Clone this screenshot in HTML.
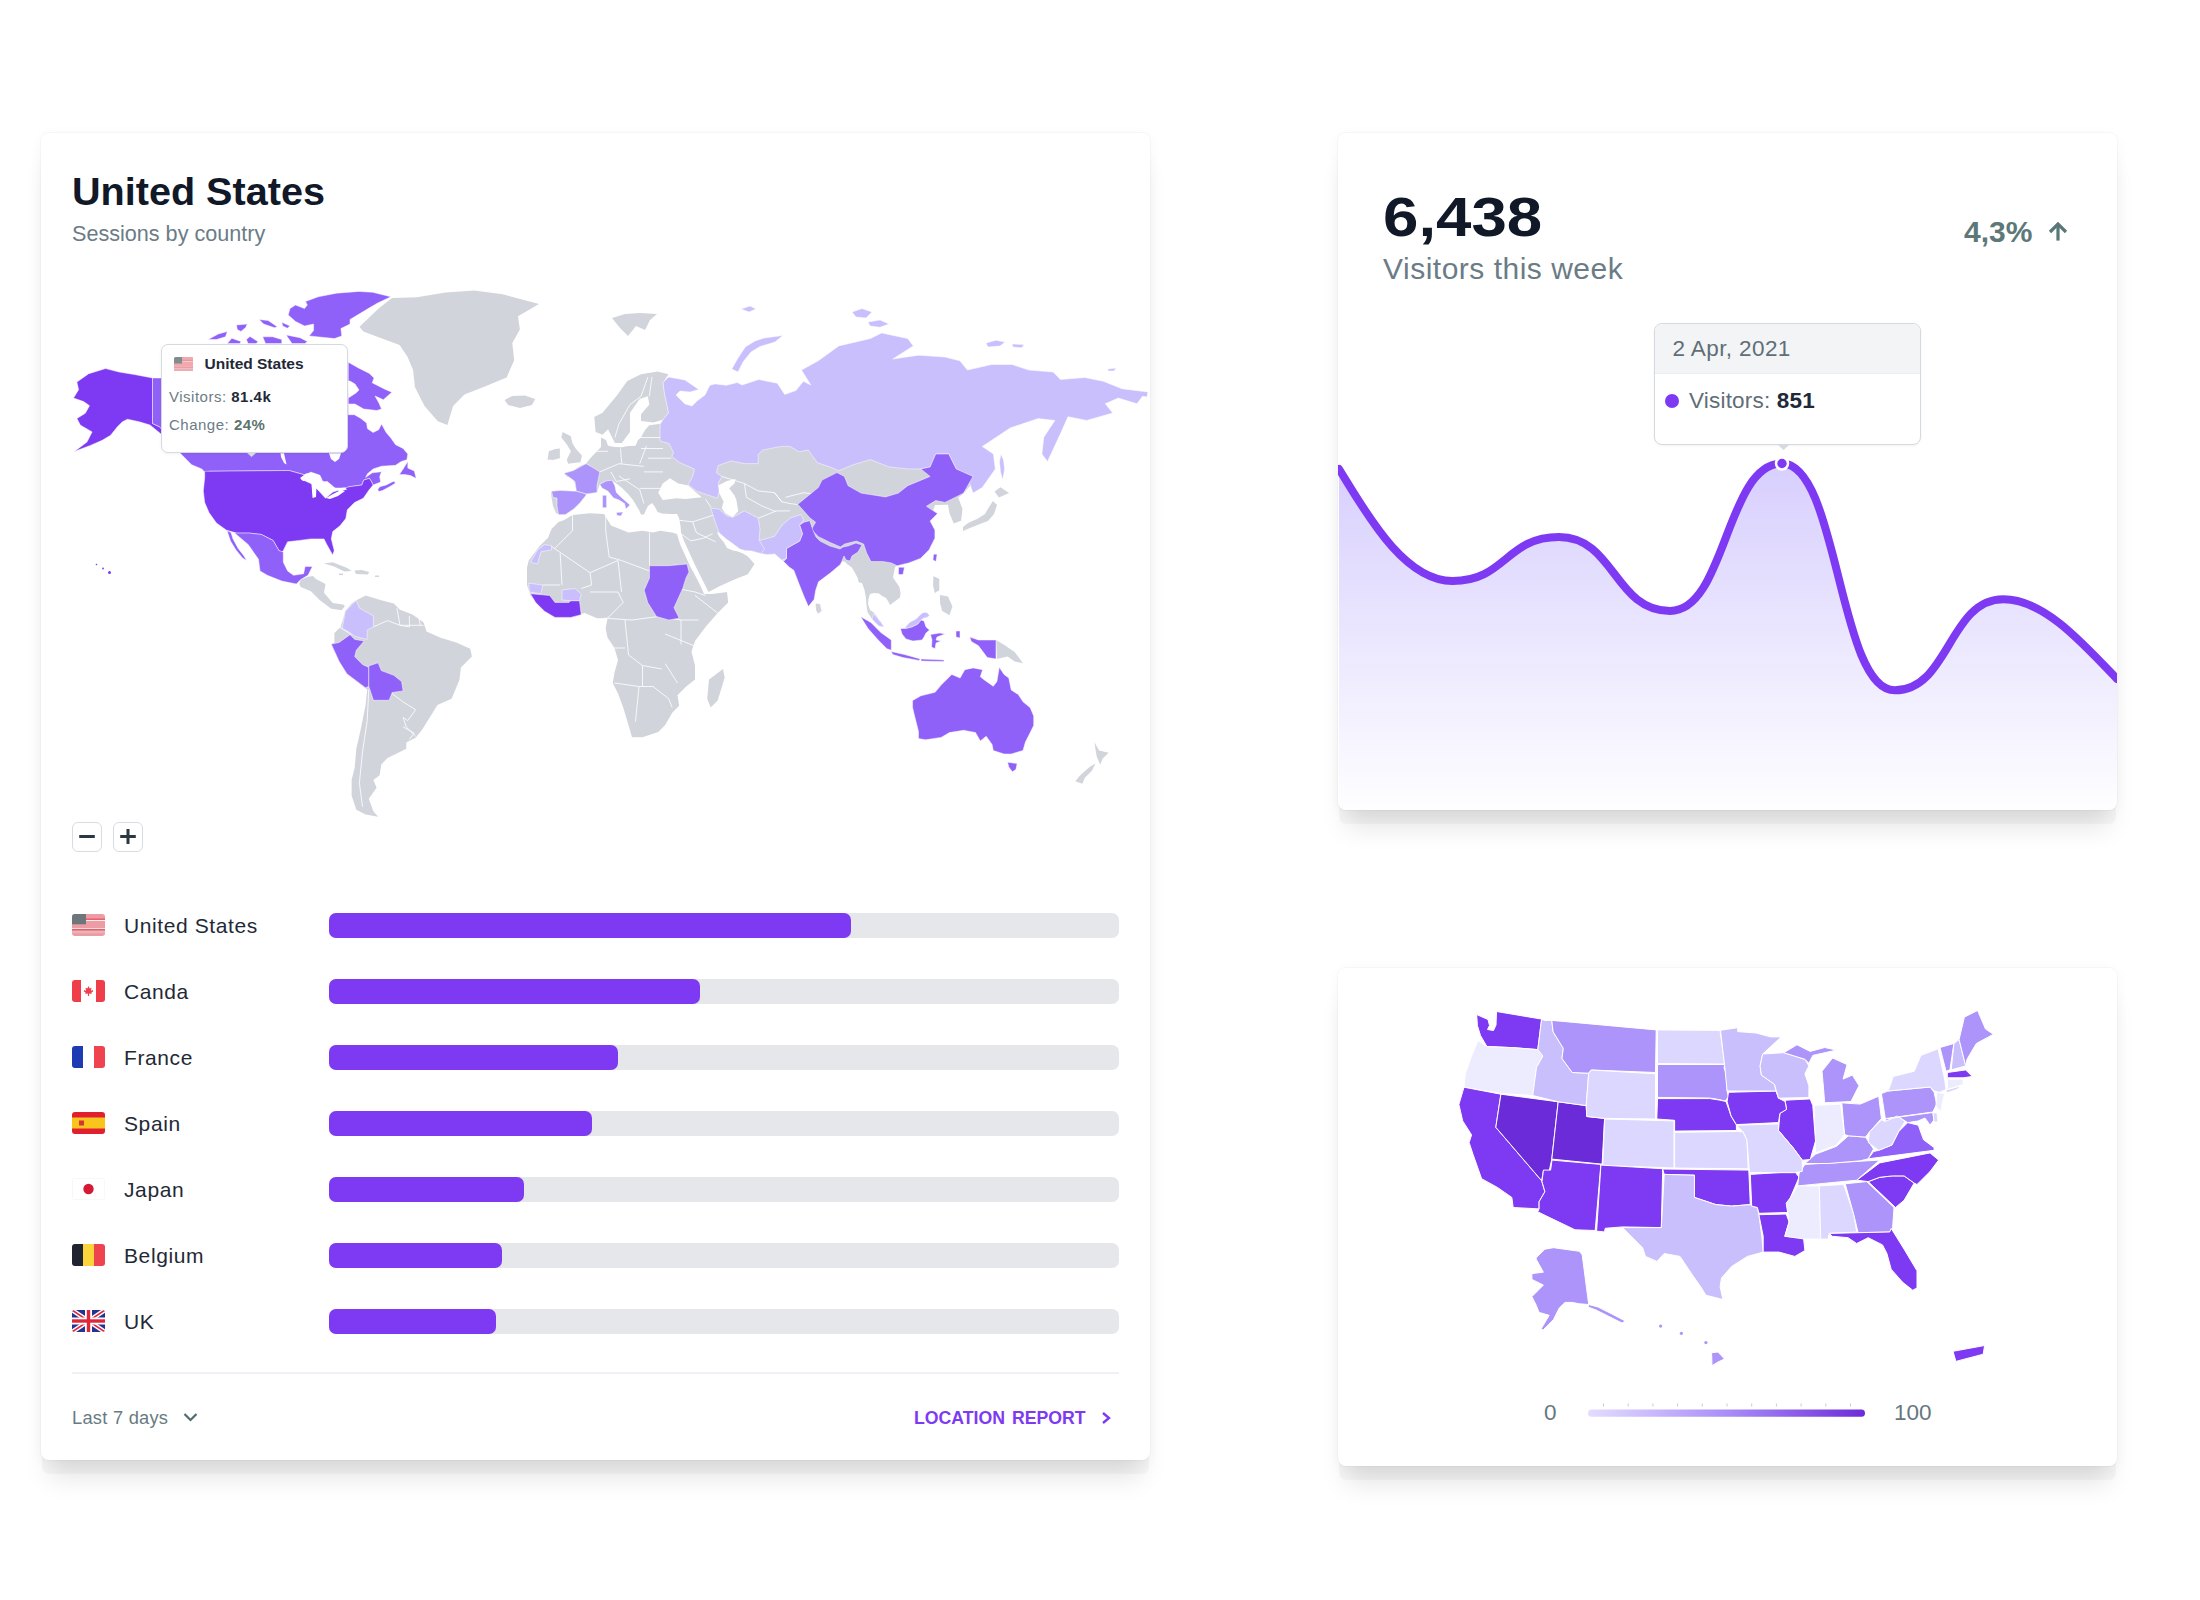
<!DOCTYPE html>
<html><head><meta charset="utf-8"><title>Sessions by country</title>
<style>
*{box-sizing:border-box}
html,body{margin:0;padding:0}
body{width:2200px;height:1600px;background:#fff;position:relative;overflow:hidden;font-family:"Liberation Sans", Arial, sans-serif;color:#111827}
.card{position:absolute;background:#fff;border-radius:8px;box-shadow:0 0 0 1px rgba(0,0,0,0.025),0 15px 1px -1px rgba(0,0,0,0.03),0 26px 24px -8px rgba(0,0,0,0.1),0 2px 14px rgba(0,0,0,0.04)}
.abs{position:absolute;white-space:nowrap}
.flag{position:absolute;left:72px;width:33px;height:22px;border-radius:3px;overflow:hidden}
.flag svg{display:block}
.cname{position:absolute;left:124px;font-size:21px;line-height:27px;letter-spacing:0.6px;color:#1f2a37;white-space:nowrap}
.track{position:absolute;left:329.3px;width:789.6px;height:25.2px;border-radius:7px;background:#e5e7eb}
.fill{position:absolute;left:329.3px;height:25.2px;border-radius:7px;background:#7e3af2}
.zbtn{position:absolute;top:821.5px;width:30px;height:30px;border:1px solid #d8dce2;border-radius:6px;background:#fff}
</style></head><body>
<div class="card" style="left:41px;top:133px;width:1108.5px;height:1326.5px"></div>
<div class="card" style="left:1338px;top:133px;width:779px;height:677px"></div>
<div class="card" style="left:1338px;top:968px;width:778.5px;height:498px"></div>

<svg class="abs" style="left:0;top:0" width="2200" height="1600" viewBox="0 0 2200 1600" xmlns="http://www.w3.org/2000/svg">
<defs>
<linearGradient id="ag" x1="0" y1="463" x2="0" y2="818" gradientUnits="userSpaceOnUse">
<stop offset="0" stop-color="#c8bcfd" stop-opacity="0.72"/>
<stop offset="1" stop-color="#c8bcfd" stop-opacity="0.0"/>
</linearGradient>
<linearGradient id="lg" x1="1588" y1="0" x2="1865" y2="0" gradientUnits="userSpaceOnUse">
<stop offset="0" stop-color="#e4ddfe"/><stop offset="0.5" stop-color="#a98ef8"/><stop offset="1" stop-color="#6c2bd9"/>
</linearGradient>
<clipPath id="cc"><rect x="1338" y="133" width="779" height="677" rx="9"/></clipPath>
</defs>
<g id="world"><path d="M359.5,326.8 L378.6,308.6 L392.0,298.1 L416.8,297.2 L445.5,292.4 L474.1,290.5 L502.7,294.3 L539.0,303.9 L518.0,316.3 L519.9,329.6 L512.3,343.0 L514.2,360.2 L506.6,377.4 L483.6,386.9 L464.5,394.5 L453.1,406.0 L447.4,425.1 L437.8,421.3 L424.5,406.0 L414.9,386.9 L413.0,369.7 L407.3,356.4 L399.6,344.9 L378.6,337.3 L363.4,331.5Z" fill="#d1d5db"/>
<path d="M504.6,400.0 L512.0,396.0 L525.0,395.5 L535.2,399.0 L532.0,405.0 L520.0,407.9 L508.0,405.0Z" fill="#d1d5db"/>
<path d="M612.0,318.0 L625.0,314.0 L640.0,313.0 L657.0,314.0 L650.0,320.0 L645.0,330.0 L636.0,326.0 L628.0,336.0 L620.0,328.0Z" fill="#d1d5db"/>
<path d="M594.3,416.9 L595.6,432.0 L602.5,434.8 L608.0,429.3 L614.9,443.0 L621.8,443.0 L630.0,432.0 L630.0,423.8 L630.0,412.8 L639.7,399.0 L647.9,396.3 L649.3,404.5 L641.0,414.2 L641.0,421.0 L653.4,422.4 L663.0,419.7 L668.5,412.8 L664.4,393.5 L663.0,382.5 L668.5,374.3 L657.5,371.5 L641.0,374.3 L627.3,381.1 L616.3,396.3 L602.5,412.8Z" fill="#d1d5db"/>
<path d="M586.0,463.7 L590.0,458.5 L597.0,451.3 L601.0,447.0 L601.0,437.5 L606.0,440.0 L608.0,445.8 L615.0,447.0 L621.8,447.2 L628.0,446.0 L635.5,445.8 L638.0,440.0 L641.0,437.5 L645.0,430.0 L649.3,425.2 L660.3,423.8 L680.0,440.0 L720.0,445.0 L760.0,443.0 L800.0,446.0 L850.0,456.0 L900.0,458.0 L935.0,455.0 L950.0,455.0 L965.0,470.0 L975.0,480.0 L963.0,494.0 L958.2,497.5 L962.5,509.1 L961.1,520.7 L953.8,523.6 L949.5,513.5 L948.0,504.7 L935.0,505.0 L930.0,520.0 L934.0,535.0 L925.0,553.0 L910.0,562.0 L897.0,565.8 L895.0,567.0 L893.0,577.5 L899.4,586.9 L900.6,593.0 L900.0,597.5 L896.0,600.6 L890.0,605.0 L888.0,601.0 L886.0,598.0 L882.0,596.0 L879.0,593.5 L874.0,593.0 L870.0,594.0 L868.5,599.0 L868.0,604.0 L870.0,610.0 L873.8,612.5 L878.0,618.0 L881.1,622.5 L884.0,626.9 L879.0,626.0 L876.7,624.0 L872.0,619.0 L867.5,612.0 L866.5,605.6 L866.0,598.0 L864.5,590.0 L862.0,583.0 L858.8,582.5 L857.5,577.5 L851.9,567.5 L847.0,564.0 L844.7,561.5 L841.8,561.5 L830.0,565.0 L810.0,570.0 L790.0,565.0 L781.8,560.0 L774.9,554.0 L767.3,554.5 L760.9,553.6 L752.0,551.0 L745.0,550.5 L740.0,549.1 L732.0,543.0 L726.4,539.1 L719.1,532.7 L717.0,532.0 L719.0,536.5 L724.0,542.5 L727.0,548.0 L733.0,550.5 L738.0,551.5 L743.0,553.5 L748.0,556.5 L754.5,564.0 L750.0,571.0 L747.5,574.5 L738.0,578.0 L730.0,581.5 L720.0,586.0 L712.5,590.0 L708.5,592.0 L705.0,585.0 L700.0,575.0 L694.5,564.0 L689.5,553.0 L684.5,542.0 L681.0,533.0 L680.5,526.0 L679.0,518.0 L677.0,514.0 L670.0,514.0 L662.0,513.5 L657.5,512.0 L655.0,507.0 L652.0,503.0 L648.0,506.0 L646.0,510.0 L644.0,514.6 L641.0,514.6 L639.0,510.0 L636.0,505.0 L633.0,500.0 L628.0,494.0 L622.0,488.0 L617.0,484.0 L612.0,480.5 L606.0,481.0 L600.0,484.0 L598.5,488.0 L597.0,492.5 L590.0,493.5 L586.0,494.5 L584.0,497.0 L580.5,502.2 L576.0,507.0 L573.6,509.0 L568.0,513.0 L565.4,514.6 L560.0,515.0 L556.0,513.0 L553.0,506.0 L551.6,498.0 L551.0,492.5 L552.0,491.0 L560.0,490.5 L570.0,491.0 L576.4,491.2 L575.0,484.0 L573.0,479.0 L566.0,476.0 L564.0,473.3 L568.0,472.0 L573.6,470.5 L580.0,466.0Z" fill="#d1d5db"/>
<path d="M562.6,432.0 L570.9,436.2 L572.3,443.0 L576.0,449.0 L581.9,455.4 L580.5,462.3 L574.0,463.0 L568.1,463.7 L566.8,459.5 L570.9,451.3 L566.8,444.4 L561.3,437.5Z" fill="#d1d5db"/>
<path d="M548.9,451.3 L555.0,449.0 L559.9,448.5 L559.9,458.2 L553.0,460.0 L547.5,459.5Z" fill="#d1d5db"/>
<path d="M563.7,520.2 L572.5,515.0 L590.0,513.2 L604.0,514.1 L611.0,525.5 L628.5,532.5 L642.5,530.7 L653.0,532.5 L660.0,530.7 L672.2,532.5 L677.0,534.0 L680.0,544.0 L685.0,555.0 L690.0,566.0 L696.0,577.0 L701.0,587.0 L704.0,594.0 L712.0,594.0 L720.0,593.0 L727.0,592.0 L728.2,602.5 L717.7,613.0 L705.5,627.0 L695.0,641.0 L691.5,651.5 L695.0,665.5 L695.0,679.5 L686.2,686.5 L677.5,695.2 L679.2,705.7 L672.2,712.7 L665.2,725.0 L658.2,732.0 L642.5,737.2 L632.0,737.2 L628.5,725.0 L623.2,707.5 L618.0,693.5 L612.7,683.0 L614.5,672.5 L618.0,660.2 L614.5,648.0 L607.5,637.5 L605.7,628.7 L607.5,618.2 L597.0,618.2 L584.7,613.0 L572.5,616.5 L555.0,616.5 L541.0,607.7 L530.5,595.5 L527.0,585.0 L527.0,567.5 L528.7,560.5 L539.2,546.5 L548.0,537.7 L551.5,529.0 L558.5,522.0Z" fill="#d1d5db"/>
<path d="M709.0,679.5 L723.0,669.0 L724.7,677.7 L717.7,700.5 L710.7,707.5 L707.2,698.7Z" fill="#d1d5db"/>
<path d="M356.3,600.3 L365.6,595.6 L381.3,600.3 L393.8,603.4 L400.0,609.7 L412.5,614.4 L423.4,622.2 L426.6,631.6 L440.6,637.8 L456.3,642.5 L470.3,648.8 L471.9,656.6 L460.9,667.5 L459.4,680.0 L451.6,698.8 L437.5,705.0 L429.7,717.5 L421.9,730.0 L415.6,737.8 L406.3,742.5 L406.3,748.8 L396.9,753.4 L387.5,758.1 L381.3,764.4 L379.7,775.3 L373.4,780.0 L376.6,787.8 L368.8,798.8 L373.4,811.3 L378.1,816.7 L365.6,814.4 L356.3,809.7 L351.6,795.6 L351.6,780.0 L354.7,767.5 L356.3,748.8 L360.9,728.4 L365.6,705.0 L367.2,689.4 L362.5,686.3 L346.9,673.8 L339.1,661.3 L331.3,645.6 L334.4,642.5 L334.4,633.1 L340.6,626.9 L345.3,611.3 L351.6,603.4Z" fill="#d1d5db"/>
<path d="M299.3,584.0 L300.7,579.6 L308.0,576.7 L313.0,576.0 L316.0,579.0 L325.5,584.0 L324.0,592.7 L332.7,602.9 L343.0,604.4 L345.0,606.0 L341.5,610.2 L331.3,608.7 L319.6,600.0 L310.9,591.3 L300.7,586.9Z" fill="#d1d5db"/>
<path d="M324.0,563.6 L332.7,562.2 L347.3,568.0 L351.6,570.9 L344.4,571.6 L334.2,566.5Z" fill="#d1d5db"/>
<path d="M354.5,570.5 L362.0,570.0 L369.1,572.0 L368.0,574.5 L356.0,574.0Z" fill="#d1d5db"/>
<path d="M339.0,573.5 L343.0,573.5 L343.0,575.0 L339.0,575.0Z" fill="#d1d5db"/>
<path d="M375.0,575.5 L379.0,575.5 L379.0,577.0 L375.0,577.0Z" fill="#d1d5db"/>
<path d="M963.0,531.0 L970.0,528.0 L980.0,524.0 L988.0,521.0 L994.0,514.0 L997.0,505.0 L993.0,501.0 L989.0,507.0 L985.0,514.0 L977.0,519.0 L968.0,523.0 L963.0,527.0Z" fill="#d1d5db"/>
<path d="M994.5,491.6 L1000.4,487.3 L1009.1,493.1 L998.9,497.5Z" fill="#d1d5db"/>
<path d="M933.5,576.0 L939.3,578.9 L939.3,590.5 L936.0,592.0 L934.9,593.5 L933.0,585.0Z" fill="#d1d5db"/>
<path d="M940.0,595.0 L948.0,596.4 L952.4,606.5 L949.5,615.3 L942.2,610.9 L940.0,603.0Z" fill="#d1d5db"/>
<path d="M815.6,603.6 L820.0,604.0 L821.5,611.0 L818.0,613.8 L816.0,610.0Z" fill="#d1d5db"/>
<path d="M996.0,640.0 L1004.0,644.8 L1014.7,651.9 L1023.0,663.2 L1014.7,661.4 L1007.6,656.6 L996.9,659.0Z" fill="#d1d5db"/>
<path d="M1094.3,742.1 L1099.1,750.5 L1108.6,752.8 L1102.6,758.8 L1100.2,764.7 L1096.7,756.4Z" fill="#d1d5db"/>
<path d="M1095.5,763.5 L1091.9,770.7 L1084.8,777.8 L1082.4,783.7 L1075.3,781.3 L1080.0,775.4 L1089.5,767.1Z" fill="#d1d5db"/>
<g fill="none" stroke="#fff" stroke-width="0.9" stroke-opacity="0.9" stroke-linejoin="round"><path d="M572.5,515.0 L572.5,530.7 L555.0,548.2"/><path d="M605.7,515.0 L605.7,530.7 L609.2,557.0 L621.5,560.5"/><path d="M560.2,553.5 L562.0,585.0"/><path d="M551.5,546.5 L590.0,572.7 L618.0,560.5"/><path d="M590.0,572.7 L591.7,585.0 L581.2,588.5"/><path d="M618.0,560.5 L621.5,592.0"/><path d="M649.5,532.5 L649.5,565.7"/><path d="M621.5,560.5 L649.5,571.0"/><path d="M590.0,592.0 L618.0,592.0 L623.2,602.5 L607.5,618.2"/><path d="M604.0,618.2 L632.0,620.0 L658.2,616.5 L681.0,620.0 L698.5,620.0"/><path d="M625.0,620.0 L628.5,655.0 L642.5,665.5 L661.7,669.0"/><path d="M614.5,648.0 L625.0,648.0"/><path d="M614.5,683.0 L639.0,686.5 L653.0,686.5"/><path d="M639.0,686.5 L635.5,721.5"/><path d="M653.0,686.5 L668.7,698.7 L672.2,707.5"/><path d="M665.2,663.7 L677.5,683.0"/><path d="M665.2,634.0 L695.0,646.2"/><path d="M681.0,620.0 L681.0,644.5"/><path d="M695.0,595.5 L717.7,613.0"/><path d="M677.5,588.5 L695.0,592.0 L705.5,595.5"/><path d="M642.5,665.5 L642.5,686.5"/><path d="M542.7,585.0 L560.2,585.0"/><path d="M396.9,608.1 L400.0,625.3 L409.4,626.9"/><path d="M409.4,615.9 L409.4,626.9"/><path d="M418.8,617.5 L420.3,625.3"/><path d="M373.4,626.9 L387.5,620.6 L400.0,625.3 L423.4,625.3"/><path d="M390.6,692.5 L403.1,701.9 L415.6,709.7 L407.8,720.6 L403.1,717.5"/><path d="M368.8,689.4 L367.2,720.6 L362.5,751.9 L359.4,783.1 L362.5,806.6"/><path d="M373.4,700.3 L390.6,692.5"/><path d="M403.1,726.9 L414.1,733.1 L409.4,739.4"/><path d="M403.1,717.5 L406.2,726.9 L415.6,736.2"/><path d="M339.1,626.9 L351.6,634.7"/><path d="M647.9,377.0 L641.0,396.3 L630.0,404.5 L619.0,423.8 L614.9,437.5"/><path d="M649.3,396.3 L652.0,377.0"/><path d="M620.4,448.5 L621.8,463.7"/><path d="M599.8,471.9 L619.0,463.7 L643.8,466.4"/><path d="M639.7,463.7 L646.5,445.8"/><path d="M647.9,458.2 L671.3,458.2"/><path d="M643.8,471.9 L663.0,471.9"/><path d="M639.7,488.4 L660.3,488.4"/><path d="M619.0,476.0 L639.7,489.8 L643.8,503.5"/><path d="M641.0,437.5 L663.0,437.5"/><path d="M641.0,448.5 L663.0,448.5"/><path d="M610.8,471.9 L616.3,481.5 L630.0,478.8"/><path d="M597.0,451.3 L608.0,451.3"/><path d="M721.8,476.4 L744.5,483.6 L758.2,490.9 L774.5,492.7 L781.8,501.8"/><path d="M744.5,483.6 L746.4,497.3 L762.7,506.4 L776.4,511.8"/><path d="M758.2,518.2 L776.4,510.9 L790.0,510.9"/><path d="M785.5,497.3 L803.6,492.7 L817.3,494.5"/><path d="M774.5,492.7 L781.8,501.8 L790.0,503.6 L797.3,504.5"/><path d="M676.4,520.0 L692.7,521.8 L715.5,514.5"/><path d="M692.7,521.8 L696.4,532.7 L715.5,541.8"/><path d="M678.2,531.8 L690.9,540.9 L703.6,538.2 L712.7,533.6"/><path d="M705.5,499.1 L710.9,507.3"/></g>
<path d="M76.9,382.1 L88.7,373.7 L105.6,368.6 L119.1,372.0 L134.3,374.5 L152.5,377.9 L152.5,423.5 L159.6,426.8 L165.0,432.0 L161.0,434.0 L150.0,425.0 L139.3,421.8 L127.5,419.2 L122.4,421.8 L117.4,426.8 L110.6,435.3 L102.2,440.3 L90.4,445.4 L76.9,450.5 L73.5,452.2 L87.0,442.0 L92.1,431.9 L80.3,425.1 L76.9,418.4 L85.3,413.3 L89.5,405.7 L83.6,401.5 L73.5,398.1 L78.6,389.7Z" fill="#7e3af2" stroke="#ffffff" stroke-width="0.8" stroke-linejoin="round" stroke-opacity="0.6"/>
<path d="M152.5,377.9 L161.0,378.0 L250.0,378.0 L348.0,385.0 L348.3,414.7 L354.4,414.7 L360.9,418.4 L366.6,423.1 L367.5,428.7 L373.1,432.5 L378.7,429.7 L381.5,424.0 L386.2,432.5 L390.9,438.1 L395.6,444.7 L403.1,448.4 L407.8,454.0 L406.9,459.7 L401.2,461.5 L395.6,465.3 L381.5,466.2 L373.1,469.0 L367.5,473.7 L365.6,477.5 L372.2,472.8 L381.5,471.8 L379.7,476.5 L380.6,482.1 L373.1,485.0 L371.2,481.2 L369.4,478.4 L363.7,480.0 L361.9,485.0 L348.7,486.8 L347.3,488.0 L335.6,488.0 L322.5,480.7 L311.0,472.0 L305.0,475.0 L298.0,473.0 L289.0,470.5 L209.0,471.3 L207.6,475.0 L201.8,469.0 L191.6,464.7 L180.0,453.0 L170.0,440.0 L159.6,426.8 L152.5,423.5Z" fill="#9061f9" stroke="#ffffff" stroke-width="0.8" stroke-linejoin="round" stroke-opacity="0.6"/>
<path d="M348.3,362.2 L358.1,367.8 L369.4,373.4 L374.0,378.1 L372.2,382.8 L385.3,389.4 L391.9,392.2 L383.4,399.7 L375.0,396.0 L378.7,402.5 L381.5,409.0 L376.9,410.5 L363.7,409.0 L355.0,404.0 L348.3,404.0 L348.3,398.0 L356.0,393.0 L359.0,390.0 L355.0,384.0 L350.0,381.0 L348.3,381.0Z" fill="#9061f9" stroke="#ffffff" stroke-width="0.8" stroke-linejoin="round" stroke-opacity="0.6"/>
<path d="M399.4,474.6 L403.1,469.0 L407.8,461.5 L407.8,468.1 L414.3,470.9 L416.2,478.4 L410.6,475.6 L405.0,474.6Z" fill="#9061f9" stroke="#ffffff" stroke-width="0.8" stroke-linejoin="round" stroke-opacity="0.6"/>
<path d="M377.8,489.6 L379.7,486.8 L386.2,485.0 L393.7,481.2 L395.6,483.1 L390.9,485.9 L382.5,490.6 L378.7,491.5Z" fill="#9061f9" stroke="#ffffff" stroke-width="0.8" stroke-linejoin="round" stroke-opacity="0.6"/>
<path d="M305.5,301.4 L318.2,296.8 L336.4,293.2 L359.1,291.4 L372.7,292.3 L390.9,296.8 L377.3,303.2 L368.2,308.6 L359.1,314.1 L350.0,319.5 L350.0,324.1 L340.9,328.6 L341.8,335.9 L334.5,338.6 L309.1,335.9 L313.6,330.5 L313.6,324.1 L304.5,325.9 L295.5,321.4 L288.2,315.0 L290.0,308.6 L295.5,305.0 L304.5,308.6 L307.3,305.0Z" fill="#9061f9" stroke="#ffffff" stroke-width="0.8" stroke-linejoin="round" stroke-opacity="0.6"/>
<path d="M259.1,319.5 L268.2,320.5 L277.3,326.8 L274.5,327.7 L263.6,324.1Z" fill="#9061f9" stroke="#ffffff" stroke-width="0.8" stroke-linejoin="round" stroke-opacity="0.6"/>
<path d="M281.8,322.3 L290.0,325.9 L287.3,328.2 L282.7,325.9Z" fill="#9061f9" stroke="#ffffff" stroke-width="0.8" stroke-linejoin="round" stroke-opacity="0.6"/>
<path d="M236.4,325.0 L247.3,324.1 L245.5,327.7 L240.9,331.4 L237.3,329.5Z" fill="#9061f9" stroke="#ffffff" stroke-width="0.8" stroke-linejoin="round" stroke-opacity="0.6"/>
<path d="M208.2,339.5 L218.2,334.1 L227.3,331.4 L225.5,336.8 L216.4,339.5Z" fill="#9061f9" stroke="#ffffff" stroke-width="0.8" stroke-linejoin="round" stroke-opacity="0.6"/>
<path d="M227.3,343.5 L231.8,338.2 L240.9,341.4 L240.0,343.5Z" fill="#9061f9" stroke="#ffffff" stroke-width="0.8" stroke-linejoin="round" stroke-opacity="0.6"/>
<path d="M246.4,339.5 L250.0,336.4 L258.2,341.8 L256.0,343.5 L248.0,343.5Z" fill="#9061f9" stroke="#ffffff" stroke-width="0.8" stroke-linejoin="round" stroke-opacity="0.6"/>
<path d="M262.7,336.8 L272.7,336.8 L281.8,339.5 L281.8,343.5 L265.5,343.5Z" fill="#9061f9" stroke="#ffffff" stroke-width="0.8" stroke-linejoin="round" stroke-opacity="0.6"/>
<path d="M286.4,335.0 L300.0,337.7 L307.3,341.4 L305.0,343.5 L292.0,343.5 L287.3,336.8Z" fill="#9061f9" stroke="#ffffff" stroke-width="0.8" stroke-linejoin="round" stroke-opacity="0.6"/>
<path d="M204.7,471.3 L289.0,470.5 L298.0,473.0 L305.0,475.0 L301.0,479.0 L310.9,483.6 L318.0,490.0 L325.5,498.2 L333.0,492.0 L345.8,488.0 L348.7,486.8 L361.9,485.0 L363.7,480.0 L369.4,478.4 L371.2,481.2 L373.1,485.0 L369.0,490.0 L363.3,498.2 L354.5,502.5 L347.3,509.8 L345.8,518.5 L340.0,525.8 L332.7,531.6 L331.3,538.9 L334.2,550.5 L332.7,554.9 L326.9,544.7 L324.0,538.9 L310.9,538.9 L299.3,540.4 L287.6,541.8 L283.3,550.5 L281.8,552.0 L278.9,550.5 L273.1,540.4 L261.5,534.5 L249.8,533.1 L236.7,533.1 L226.5,530.2 L216.4,522.9 L209.1,512.7 L204.7,502.5 L203.3,490.9 L204.7,477.8Z" fill="#7e3af2" stroke="#ffffff" stroke-width="0.8" stroke-linejoin="round" stroke-opacity="0.6"/>
<path d="M234.0,532.5 L236.7,533.1 L249.8,533.1 L261.5,534.5 L273.1,540.4 L278.9,550.5 L283.3,552.0 L283.3,562.2 L287.6,570.9 L293.5,575.3 L303.6,573.8 L305.1,566.5 L312.4,566.5 L308.0,575.3 L300.7,579.6 L296.4,584.0 L281.8,581.1 L267.3,575.3 L260.0,570.9 L258.5,559.3 L248.4,544.7Z" fill="#9061f9" stroke="#ffffff" stroke-width="0.8" stroke-linejoin="round" stroke-opacity="0.6"/>
<path d="M227.0,530.5 L231.0,532.5 L233.0,539.0 L238.2,548.5 L244.0,556.0 L246.5,560.5 L242.5,558.0 L236.0,550.0 L230.5,541.0Z" fill="#9061f9" stroke="#ffffff" stroke-width="0.8" stroke-linejoin="round" stroke-opacity="0.6"/>
<path d="M300.0,478.0 L306.0,473.5 L313.0,472.5 L320.0,475.0 L322.5,480.0 L316.0,478.5 L309.0,479.5 L303.0,481.0Z" fill="#ffffff"/>
<path d="M311.5,484.0 L316.5,485.0 L316.0,497.0 L312.5,498.0Z" fill="#ffffff"/>
<path d="M320.0,483.0 L327.0,481.0 L333.0,486.0 L331.0,491.0 L324.0,489.0 L321.0,486.0Z" fill="#ffffff"/>
<path d="M326.0,498.0 L333.0,494.0 L341.0,490.0 L345.0,491.0 L338.0,496.0 L330.0,499.0Z" fill="#ffffff"/>
<path d="M337.0,488.5 L345.0,487.5 L347.0,489.5 L339.0,491.5Z" fill="#ffffff"/>
<path d="M329.0,453.3 L341.0,453.3 L339.0,459.0 L335.0,462.0 L331.0,459.0Z" fill="#ffffff"/>
<path d="M280.5,453.3 L284.0,453.3 L286.5,464.5 L284.0,463.0 L281.0,457.0Z" fill="#ffffff"/>
<path d="M345.3,611.3 L356.3,600.3 L359.4,608.1 L373.4,615.9 L373.4,626.9 L367.2,630.0 L367.2,639.4 L354.7,636.3 L348.4,631.6 L342.2,628.4Z" fill="#cabffd" stroke="#ffffff" stroke-width="0.8" stroke-linejoin="round" stroke-opacity="0.6"/>
<path d="M331.3,644.1 L339.1,642.5 L350.0,634.7 L354.7,639.4 L364.1,640.9 L356.3,650.3 L354.7,656.6 L362.5,664.4 L368.8,667.5 L368.8,686.3 L365.6,687.8 L346.9,673.8 L339.1,661.3Z" fill="#9061f9" stroke="#ffffff" stroke-width="0.8" stroke-linejoin="round" stroke-opacity="0.6"/>
<path d="M368.8,665.9 L378.1,662.8 L381.3,670.6 L393.8,675.3 L401.6,681.6 L403.1,690.9 L392.2,692.5 L389.1,700.3 L373.4,700.3 L368.8,686.3Z" fill="#9061f9" stroke="#ffffff" stroke-width="0.8" stroke-linejoin="round" stroke-opacity="0.6"/>
<path d="M663.0,382.5 L664.4,393.5 L668.5,412.8 L663.0,419.7 L660.3,423.8 L660.0,429.1 L660.0,440.9 L669.1,443.6 L673.6,452.7 L671.8,456.4 L680.0,462.7 L694.5,469.1 L692.7,476.4 L688.2,484.5 L696.4,490.9 L703.6,493.6 L717.3,498.2 L720.0,489.1 L718.2,483.6 L721.8,476.4 L716.4,472.7 L718.2,465.5 L730.9,460.9 L744.5,463.6 L758.2,463.6 L758.2,454.5 L762.7,450.0 L780.9,446.4 L790.0,446.4 L799.1,451.8 L808.2,450.0 L817.3,462.7 L830.9,467.3 L838.8,470.8 L851.8,465.2 L870.5,459.6 L889.1,467.0 L907.7,468.9 L920.8,468.9 L930.1,467.0 L935.7,454.0 L948.7,454.0 L956.2,468.9 L965.5,476.4 L969.2,481.9 L973.0,493.1 L982.3,487.5 L995.3,468.9 L993.4,454.0 L982.3,446.5 L1010.2,427.9 L1038.2,418.6 L1054.9,420.4 L1043.8,437.2 L1041.9,454.0 L1047.5,461.5 L1060.5,433.5 L1068.0,416.7 L1086.6,420.4 L1112.7,413.0 L1105.3,403.7 L1118.3,398.1 L1137.0,403.7 L1142.5,396.2 L1147.0,397.0 L1148.0,392.0 L1122.0,388.8 L1103.4,381.3 L1084.8,377.6 L1060.5,379.5 L1053.1,372.0 L1028.9,370.1 L1012.1,364.5 L991.6,364.5 L967.4,370.1 L959.9,360.8 L945.0,357.1 L918.9,355.2 L892.8,359.0 L913.3,345.9 L907.7,338.5 L881.6,332.9 L870.5,338.5 L838.8,345.9 L818.3,360.8 L801.5,370.1 L810.8,385.0 L803.4,381.3 L795.9,390.6 L784.7,394.4 L777.3,383.2 L758.6,379.5 L742.0,385.0 L737.3,382.5 L726.3,385.3 L715.3,383.9 L709.8,385.3 L705.0,395.0 L697.0,401.0 L692.0,406.0 L685.0,404.0 L676.0,395.0 L680.0,391.0 L690.0,392.0 L698.8,389.4 L685.0,380.0 L668.5,377.0Z" fill="#cabffd" stroke="#ffffff" stroke-width="0.8" stroke-linejoin="round" stroke-opacity="0.6"/>
<path d="M731.8,369.0 L738.0,358.0 L745.5,346.8 L755.0,341.0 L764.2,338.0 L782.9,335.5 L775.0,342.0 L760.0,346.5 L751.0,352.0 L743.0,362.0 L738.0,372.0Z" fill="#cabffd" stroke="#ffffff" stroke-width="0.8" stroke-linejoin="round" stroke-opacity="0.6"/>
<path d="M852.0,312.0 L862.0,308.6 L872.0,312.0 L866.0,318.0 L856.0,317.0Z" fill="#cabffd" stroke="#ffffff" stroke-width="0.8" stroke-linejoin="round" stroke-opacity="0.6"/>
<path d="M868.0,322.0 L880.0,320.0 L889.0,324.0 L880.0,327.3 L870.0,326.0Z" fill="#cabffd" stroke="#ffffff" stroke-width="0.8" stroke-linejoin="round" stroke-opacity="0.6"/>
<path d="M986.0,343.0 L996.0,340.3 L1005.0,342.0 L1000.0,346.0 L988.0,347.0Z" fill="#cabffd" stroke="#ffffff" stroke-width="0.8" stroke-linejoin="round" stroke-opacity="0.6"/>
<path d="M1012.0,344.0 L1024.0,344.5 L1022.0,347.8 L1013.0,347.0Z" fill="#cabffd" stroke="#ffffff" stroke-width="0.8" stroke-linejoin="round" stroke-opacity="0.6"/>
<path d="M741.0,309.0 L750.0,306.0 L756.0,309.0 L749.0,312.0Z" fill="#cabffd" stroke="#ffffff" stroke-width="0.8" stroke-linejoin="round" stroke-opacity="0.6"/>
<path d="M1108.0,369.0 L1116.0,368.0 L1114.0,371.0 L1108.0,371.0Z" fill="#cabffd" stroke="#ffffff" stroke-width="0.8" stroke-linejoin="round" stroke-opacity="0.6"/>
<path d="M1000.9,454.0 L1003.5,460.0 L1004.6,468.9 L1002.8,480.1 L1000.5,472.0 L999.5,462.0Z" fill="#cabffd" stroke="#ffffff" stroke-width="0.8" stroke-linejoin="round" stroke-opacity="0.6"/>
<path d="M797.8,504.3 L818.3,487.5 L822.0,480.1 L836.9,472.6 L844.4,476.4 L848.1,485.7 L861.1,493.1 L885.4,496.9 L898.4,493.1 L907.7,485.7 L930.1,476.4 L920.8,468.9 L930.1,467.0 L935.7,454.0 L948.7,454.0 L956.2,468.9 L973.0,476.4 L963.6,493.1 L958.0,496.0 L945.0,502.4 L935.7,500.6 L926.4,506.2 L937.5,513.6 L930.1,521.1 L934.9,530.0 L934.9,538.2 L929.1,549.8 L920.4,558.5 L908.7,562.9 L897.1,565.8 L891.3,562.9 L882.5,561.5 L870.9,561.5 L866.5,552.7 L863.6,544.0 L856.4,541.1 L844.7,544.0 L840.4,546.9 L830.2,542.5 L818.5,536.7 L811.3,529.5 L815.6,522.2 L809.8,517.8 L798.2,504.7Z" fill="#9061f9" stroke="#ffffff" stroke-width="0.8" stroke-linejoin="round" stroke-opacity="0.6"/>
<path d="M933.5,554.2 L937.1,554.2 L936.0,561.5 L933.0,560.0Z" fill="#9061f9" stroke="#ffffff" stroke-width="0.8" stroke-linejoin="round" stroke-opacity="0.6"/>
<path d="M898.5,567.3 L904.4,567.3 L903.0,574.5 L898.5,574.5Z" fill="#9061f9" stroke="#ffffff" stroke-width="0.8" stroke-linejoin="round" stroke-opacity="0.6"/>
<path d="M786.5,548.4 L799.6,541.1 L802.5,533.8 L799.6,525.1 L804.0,522.2 L809.8,520.7 L812.7,529.5 L816.0,537.0 L820.0,541.0 L830.0,546.0 L840.0,549.0 L843.0,547.0 L848.0,546.0 L856.0,543.0 L862.0,545.0 L858.0,552.0 L852.0,556.0 L850.0,561.0 L846.0,560.0 L844.0,556.0 L841.8,561.5 L840.4,564.4 L830.2,573.1 L818.5,581.8 L815.6,590.5 L814.2,599.3 L808.4,606.5 L804.0,596.4 L798.2,581.8 L793.8,570.2 L789.5,567.3 L783.6,561.5 L786.5,558.5Z" fill="#9061f9" stroke="#ffffff" stroke-width="0.8" stroke-linejoin="round" stroke-opacity="0.6"/>
<path d="M758.2,540.9 L774.5,536.4 L781.8,525.5 L790.0,518.2 L800.9,514.5 L803.6,520.0 L799.6,525.1 L802.5,533.8 L799.6,541.1 L786.5,548.4 L786.5,558.5 L781.8,560.0 L774.9,554.0 L767.3,554.5 L760.9,553.6Z" fill="#cabffd" stroke="#ffffff" stroke-width="0.8" stroke-linejoin="round" stroke-opacity="0.6"/>
<path d="M710.9,508.2 L719.1,509.1 L726.4,515.5 L732.7,517.3 L744.5,510.9 L758.2,518.2 L760.0,529.1 L759.1,540.0 L764.5,549.1 L760.9,553.6 L752.0,551.0 L745.0,550.5 L740.0,549.1 L732.0,543.0 L726.4,539.1 L719.1,532.7 L714.5,520.0Z" fill="#cabffd" stroke="#ffffff" stroke-width="0.8" stroke-linejoin="round" stroke-opacity="0.6"/>
<path d="M873.8,613.8 L878.0,619.0 L881.1,622.5 L884.0,626.9 L879.0,626.0 L876.7,624.0 L872.0,619.0Z" fill="#cabffd" stroke="#ffffff" stroke-width="0.8" stroke-linejoin="round" stroke-opacity="0.6"/>
<path d="M905.0,627.5 L910.0,622.0 L916.0,619.0 L920.0,615.0 L923.0,612.5 L927.0,612.5 L929.5,615.5 L927.0,617.5 L924.0,618.0 L921.0,620.0 L918.0,624.0 L912.0,627.0 L906.0,628.5Z" fill="#cabffd" stroke="#ffffff" stroke-width="0.8" stroke-linejoin="round" stroke-opacity="0.6"/>
<path d="M860.7,616.7 L870.9,622.5 L881.1,632.7 L891.3,640.0 L891.3,650.2 L886.9,648.7 L878.2,640.0 L868.0,628.4Z" fill="#9061f9" stroke="#ffffff" stroke-width="0.8" stroke-linejoin="round" stroke-opacity="0.6"/>
<path d="M891.3,651.6 L904.4,654.5 L920.4,658.9 L918.9,660.4 L902.9,657.5 L892.7,654.5Z" fill="#9061f9" stroke="#ffffff" stroke-width="0.8" stroke-linejoin="round" stroke-opacity="0.6"/>
<path d="M921.0,659.0 L935.0,659.5 L944.0,660.0 L944.0,661.5 L921.0,661.0Z" fill="#9061f9" stroke="#ffffff" stroke-width="0.8" stroke-linejoin="round" stroke-opacity="0.6"/>
<path d="M900.5,628.5 L906.0,628.5 L912.0,627.0 L918.0,624.0 L921.0,620.0 L924.0,621.0 L926.0,627.0 L929.5,630.0 L926.0,633.0 L924.0,637.0 L922.0,640.0 L913.0,641.0 L906.0,639.0 L902.0,634.0Z" fill="#9061f9" stroke="#ffffff" stroke-width="0.8" stroke-linejoin="round" stroke-opacity="0.6"/>
<path d="M930.5,634.5 L940.0,633.0 L945.0,634.0 L937.0,637.0 L936.0,640.0 L941.0,641.0 L936.0,643.0 L935.0,648.7 L931.5,647.0 L932.0,640.0Z" fill="#9061f9" stroke="#ffffff" stroke-width="0.8" stroke-linejoin="round" stroke-opacity="0.6"/>
<path d="M969.8,637.1 L978.5,640.0 L996.0,640.0 L996.0,658.9 L987.3,657.5 L978.5,645.8 L971.3,641.5Z" fill="#9061f9" stroke="#ffffff" stroke-width="0.8" stroke-linejoin="round" stroke-opacity="0.6"/>
<path d="M956.0,631.0 L960.0,631.0 L960.0,638.0 L956.0,637.0Z" fill="#9061f9" stroke="#ffffff" stroke-width="0.8" stroke-linejoin="round" stroke-opacity="0.6"/>
<path d="M912.6,700.6 L920.9,695.8 L935.1,692.3 L941.1,685.1 L951.8,674.4 L960.1,678.0 L964.8,669.7 L973.1,667.9 L982.6,669.7 L980.3,676.8 L985.0,680.4 L993.3,686.3 L996.9,681.6 L999.3,667.3 L1004.0,674.4 L1008.8,678.0 L1011.2,689.9 L1018.3,694.6 L1023.0,701.8 L1030.2,707.7 L1033.7,716.0 L1033.7,725.5 L1029.0,735.0 L1025.4,742.1 L1023.0,750.5 L1011.2,754.0 L1004.0,754.0 L993.3,750.5 L992.1,744.5 L986.2,736.2 L980.3,741.0 L975.5,732.6 L963.6,730.3 L949.4,732.6 L941.1,737.4 L925.6,739.8 L918.5,738.6 L918.5,731.5 L914.9,717.2 L912.6,707.7Z" fill="#9061f9" stroke="#ffffff" stroke-width="0.8" stroke-linejoin="round" stroke-opacity="0.6"/>
<path d="M1007.6,762.3 L1017.1,763.5 L1015.9,769.5 L1012.3,771.8 L1008.8,767.1Z" fill="#9061f9" stroke="#ffffff" stroke-width="0.8" stroke-linejoin="round" stroke-opacity="0.6"/>
<path d="M564.0,473.3 L573.6,470.5 L586.0,463.7 L592.0,467.0 L599.8,471.9 L598.4,478.8 L597.0,485.0 L597.0,492.5 L586.0,493.9 L576.4,491.2 L575.0,481.5Z" fill="#ac94fa" stroke="#ffffff" stroke-width="0.8" stroke-linejoin="round" stroke-opacity="0.6"/>
<path d="M551.6,491.2 L560.0,490.5 L576.4,491.2 L586.0,494.0 L586.0,495.3 L580.5,502.2 L573.6,509.0 L565.4,514.6 L558.5,514.6 L557.0,506.3 L557.0,498.0 L553.0,497.5Z" fill="#ac94fa" stroke="#ffffff" stroke-width="0.8" stroke-linejoin="round" stroke-opacity="0.6"/>
<path d="M599.8,484.3 L606.0,481.0 L612.1,480.2 L614.9,485.7 L616.3,492.5 L622.0,498.0 L630.0,504.9 L625.9,509.0 L624.5,503.6 L619.0,500.0 L613.5,498.0 L608.0,491.2 L602.0,488.0Z" fill="#ac94fa" stroke="#ffffff" stroke-width="0.8" stroke-linejoin="round" stroke-opacity="0.6"/>
<path d="M616.3,512.5 L623.1,512.0 L621.0,516.0 L617.0,515.5Z" fill="#ac94fa" stroke="#ffffff" stroke-width="0.8" stroke-linejoin="round" stroke-opacity="0.6"/>
<path d="M602.5,495.3 L606.6,495.3 L606.6,507.7 L602.5,507.7Z" fill="#ac94fa" stroke="#ffffff" stroke-width="0.8" stroke-linejoin="round" stroke-opacity="0.6"/>
<path d="M649.5,565.7 L668.7,565.7 L687.0,564.0 L689.0,572.0 L686.0,578.0 L682.7,588.5 L674.0,607.7 L679.2,618.2 L668.7,620.0 L656.5,616.5 L647.7,602.5 L644.2,590.2 L649.5,578.0Z" fill="#9061f9" stroke="#ffffff" stroke-width="0.8" stroke-linejoin="round" stroke-opacity="0.6"/>
<path d="M530.5,593.7 L549.7,595.5 L555.0,602.5 L569.0,602.5 L570.7,600.7 L579.5,600.7 L581.2,614.7 L570.7,617.4 L555.0,617.4 L544.5,611.2 L535.7,602.5Z" fill="#7e3af2" stroke="#ffffff" stroke-width="0.8" stroke-linejoin="round" stroke-opacity="0.6"/>
<path d="M528.7,583.2 L542.7,585.0 L541.0,593.7 L529.5,592.0Z" fill="#cabffd" stroke="#ffffff" stroke-width="0.8" stroke-linejoin="round" stroke-opacity="0.6"/>
<path d="M562.0,590.0 L575.0,588.5 L581.2,594.0 L579.5,600.7 L570.7,600.7 L562.0,600.0Z" fill="#cabffd" stroke="#ffffff" stroke-width="0.8" stroke-linejoin="round" stroke-opacity="0.6"/>
<path d="M530.5,562.2 L537.5,550.0 L544.5,544.7 L551.5,545.6 L551.5,550.0 L541.0,551.7 L537.5,564.0Z" fill="#cabffd" stroke="#ffffff" stroke-width="0.8" stroke-linejoin="round" stroke-opacity="0.6"/>
<path d="M658.2,492.7 L662.7,483.6 L670.0,478.2 L678.2,483.6 L688.2,485.5 L696.4,492.7 L701.8,497.3 L685.5,499.1 L676.4,498.2 L662.7,500.0Z" fill="#ffffff"/>
<path d="M718.2,485.5 L727.0,481.0 L735.5,479.1 L734.5,483.6 L729.1,488.2 L734.5,495.5 L736.4,500.0 L738.2,510.9 L732.7,517.3 L725.5,513.6 L721.8,508.2 L723.6,501.8 L719.1,492.7Z" fill="#ffffff"/>
<circle cx="96.5" cy="564.5" r="0.8" fill="#7e3af2"/>
<circle cx="103" cy="568.5" r="0.9" fill="#7e3af2"/>
<circle cx="109.5" cy="572.5" r="1.5" fill="#7e3af2"/></g>
<g id="usmap"><path d="M1476.7,1014.6 L1488.0,1019.5 L1489.5,1025.5 L1487.5,1029.5 L1493.5,1030.5 L1496.0,1025.0 L1496.5,1011.5 L1541.6,1019.1 L1537.8,1049.6 L1513.6,1047.7 L1486.9,1046.5 L1480.5,1035.6 L1477.4,1025.5Z" fill="#7e3af2" stroke="#ffffff" stroke-width="1.0" stroke-linejoin="round"/>
<path d="M1486.9,1046.5 L1513.6,1047.7 L1537.8,1049.6 L1542.9,1056.0 L1536.5,1067.5 L1532.7,1095.5 L1500.9,1093.5 L1464.0,1087.2 L1465.3,1073.8 L1471.6,1056.0 L1478.0,1040.7Z" fill="#edebfe" stroke="#ffffff" stroke-width="1.0" stroke-linejoin="round"/>
<path d="M1464.0,1087.2 L1500.9,1094.2 L1495.8,1127.3 L1541.6,1180.7 L1544.9,1191.7 L1539.1,1201.7 L1539.1,1208.9 L1513.2,1207.5 L1511.8,1197.4 L1497.4,1187.4 L1481.6,1178.7 L1473.0,1154.3 L1469.1,1142.5 L1471.6,1134.9 L1462.7,1120.9 L1458.9,1104.4 L1462.7,1091.6Z" fill="#7e3af2" stroke="#ffffff" stroke-width="1.0" stroke-linejoin="round"/>
<path d="M1500.9,1094.2 L1558.2,1101.8 L1551.8,1159.1 L1549.3,1170.5 L1543.5,1170.5 L1541.6,1180.7 L1495.8,1127.3Z" fill="#6c2bd9" stroke="#ffffff" stroke-width="1.0" stroke-linejoin="round"/>
<path d="M1558.2,1101.8 L1586.2,1105.6 L1586.8,1116.5 L1604.6,1118.4 L1602.1,1164.2 L1551.8,1159.1Z" fill="#6c2bd9" stroke="#ffffff" stroke-width="1.0" stroke-linejoin="round"/>
<path d="M1544.2,1020.4 L1551.8,1020.4 L1553.1,1031.8 L1563.3,1048.4 L1562.0,1058.5 L1572.2,1072.5 L1588.7,1073.2 L1586.2,1105.6 L1558.2,1101.8 L1532.7,1095.5 L1536.5,1067.5 L1542.9,1056.0 L1537.8,1049.6 L1541.6,1019.1Z" fill="#cabffd" stroke="#ffffff" stroke-width="1.0" stroke-linejoin="round"/>
<path d="M1551.8,1020.4 L1656.2,1029.9 L1655.5,1072.5 L1591.3,1070.0 L1588.7,1073.2 L1572.2,1072.5 L1562.0,1058.5 L1563.3,1048.4 L1553.1,1031.8Z" fill="#ac94fa" stroke="#ffffff" stroke-width="1.0" stroke-linejoin="round"/>
<path d="M1591.3,1070.0 L1655.5,1073.8 L1655.5,1119.0 L1604.6,1118.4 L1586.8,1116.5 L1586.2,1105.6 L1588.7,1073.2Z" fill="#dcd7fe" stroke="#ffffff" stroke-width="1.0" stroke-linejoin="round"/>
<path d="M1657.5,1029.9 L1720.0,1030.4 L1724.7,1064.0 L1657.5,1063.5Z" fill="#dcd7fe" stroke="#ffffff" stroke-width="1.0" stroke-linejoin="round"/>
<path d="M1657.5,1064.5 L1724.7,1064.5 L1724.0,1068.0 L1727.0,1075.0 L1727.1,1091.0 L1728.5,1097.0 L1725.0,1101.0 L1719.0,1099.5 L1709.6,1098.0 L1657.5,1097.4Z" fill="#ac94fa" stroke="#ffffff" stroke-width="1.0" stroke-linejoin="round"/>
<path d="M1657.5,1098.6 L1709.6,1098.6 L1719.0,1100.0 L1726.0,1101.5 L1731.1,1116.0 L1736.4,1125.0 L1736.4,1130.5 L1674.6,1131.1 L1674.6,1120.3 L1656.8,1119.0Z" fill="#7e3af2" stroke="#ffffff" stroke-width="1.0" stroke-linejoin="round"/>
<path d="M1604.6,1119.0 L1674.0,1120.9 L1674.0,1168.0 L1602.7,1165.5Z" fill="#dcd7fe" stroke="#ffffff" stroke-width="1.0" stroke-linejoin="round"/>
<path d="M1674.6,1132.4 L1736.4,1131.5 L1743.0,1131.8 L1746.9,1139.7 L1748.2,1168.8 L1674.6,1168.0Z" fill="#dcd7fe" stroke="#ffffff" stroke-width="1.0" stroke-linejoin="round"/>
<path d="M1552.0,1160.1 L1600.9,1164.4 L1595.2,1230.5 L1575.0,1229.8 L1537.7,1211.8 L1539.1,1208.9 L1539.1,1201.7 L1544.9,1191.7 L1542.0,1181.6 L1543.4,1170.1 L1550.6,1170.1Z" fill="#7e3af2" stroke="#ffffff" stroke-width="1.0" stroke-linejoin="round"/>
<path d="M1600.9,1165.1 L1662.7,1168.7 L1661.3,1227.6 L1622.5,1226.9 L1605.2,1228.3 L1604.5,1231.9 L1596.6,1231.2Z" fill="#7e3af2" stroke="#ffffff" stroke-width="1.0" stroke-linejoin="round"/>
<path d="M1662.7,1169.0 L1748.8,1170.1 L1750.3,1204.6 L1731.6,1206.1 L1715.9,1204.6 L1694.4,1197.4 L1694.4,1175.2 L1664.2,1174.4Z" fill="#7e3af2" stroke="#ffffff" stroke-width="1.0" stroke-linejoin="round"/>
<path d="M1664.2,1174.4 L1694.4,1175.2 L1694.4,1197.4 L1715.9,1204.6 L1731.6,1206.1 L1750.3,1204.6 L1751.7,1206.1 L1757.4,1207.5 L1758.9,1214.7 L1761.8,1236.3 L1763.2,1252.1 L1747.4,1256.4 L1731.6,1266.5 L1721.5,1278.0 L1720.1,1286.6 L1722.9,1299.5 L1705.9,1295.2 L1701.5,1288.0 L1691.5,1273.6 L1680.0,1256.4 L1664.2,1253.5 L1657.0,1261.4 L1645.5,1256.4 L1642.6,1247.7 L1622.5,1227.6 L1661.3,1227.6Z" fill="#cabffd" stroke="#ffffff" stroke-width="1.0" stroke-linejoin="round"/>
<path d="M1750.3,1174.4 L1794.8,1171.6 L1799.1,1177.3 L1790.5,1197.4 L1787.6,1212.5 L1758.9,1213.3 L1757.4,1207.5 L1751.7,1206.1Z" fill="#7e3af2" stroke="#ffffff" stroke-width="1.0" stroke-linejoin="round"/>
<path d="M1758.9,1214.7 L1786.2,1214.0 L1789.1,1221.9 L1784.8,1236.3 L1803.5,1237.7 L1804.9,1250.6 L1794.8,1256.4 L1779.0,1252.1 L1763.2,1252.1 L1763.2,1236.3Z" fill="#7e3af2" stroke="#ffffff" stroke-width="1.0" stroke-linejoin="round"/>
<path d="M1797.7,1185.9 L1819.3,1185.9 L1820.7,1239.1 L1804.9,1239.1 L1784.8,1236.3 L1789.1,1221.9 L1786.2,1203.2 L1790.5,1197.4Z" fill="#edebfe" stroke="#ffffff" stroke-width="1.0" stroke-linejoin="round"/>
<path d="M1819.3,1185.9 L1843.7,1184.5 L1853.8,1214.7 L1856.7,1232.0 L1829.3,1233.4 L1827.9,1239.1 L1820.7,1239.1Z" fill="#dcd7fe" stroke="#ffffff" stroke-width="1.0" stroke-linejoin="round"/>
<path d="M1845.2,1183.8 L1866.7,1181.6 L1894.0,1207.5 L1892.6,1227.6 L1889.7,1232.0 L1858.1,1232.7 L1853.8,1214.7Z" fill="#ac94fa" stroke="#ffffff" stroke-width="1.0" stroke-linejoin="round"/>
<path d="M1829.3,1233.4 L1858.1,1232.7 L1889.7,1232.0 L1891.2,1228.4 L1904.1,1249.2 L1917.0,1270.8 L1917.0,1288.0 L1912.7,1290.2 L1902.7,1282.3 L1891.2,1269.3 L1886.9,1253.5 L1882.5,1244.9 L1868.2,1237.7 L1856.7,1243.5 L1848.0,1237.7 L1832.2,1236.3Z" fill="#7e3af2" stroke="#ffffff" stroke-width="1.0" stroke-linejoin="round"/>
<path d="M1868.2,1181.6 L1879.7,1177.3 L1892.6,1175.9 L1904.1,1175.9 L1914.2,1183.1 L1904.1,1200.3 L1895.5,1207.5Z" fill="#7e3af2" stroke="#ffffff" stroke-width="1.0" stroke-linejoin="round"/>
<path d="M1856.7,1180.2 L1879.7,1162.9 L1930.0,1152.9 L1938.6,1160.1 L1930.0,1171.6 L1917.0,1184.5 L1914.2,1183.1 L1904.1,1175.9 L1892.6,1175.9 L1879.7,1177.3 L1868.2,1181.6Z" fill="#7e3af2" stroke="#ffffff" stroke-width="1.0" stroke-linejoin="round"/>
<path d="M1799.1,1173.0 L1804.9,1164.4 L1879.7,1160.1 L1856.7,1180.2 L1797.7,1185.9Z" fill="#ac94fa" stroke="#ffffff" stroke-width="1.0" stroke-linejoin="round"/>
<path d="M1804.9,1163.5 L1815.5,1154.2 L1836.5,1146.3 L1848.4,1135.8 L1865.5,1137.1 L1873.5,1149.0 L1868.2,1158.8 L1860.3,1160.8 L1828.6,1163.5Z" fill="#ac94fa" stroke="#ffffff" stroke-width="1.0" stroke-linejoin="round"/>
<path d="M1873.5,1151.6 L1878.7,1150.3 L1891.9,1145.0 L1898.5,1131.8 L1907.7,1122.6 L1918.3,1125.2 L1923.5,1139.7 L1934.1,1147.6 L1934.1,1150.3 L1868.2,1158.8Z" fill="#9061f9" stroke="#ffffff" stroke-width="1.0" stroke-linejoin="round"/>
<path d="M1869.5,1131.8 L1881.4,1120.0 L1885.3,1121.3 L1897.2,1116.0 L1905.1,1121.3 L1898.5,1131.8 L1891.9,1145.0 L1878.7,1150.3 L1868.2,1142.4Z" fill="#dcd7fe" stroke="#ffffff" stroke-width="1.0" stroke-linejoin="round"/>
<path d="M1841.8,1102.8 L1851.0,1103.5 L1860.3,1104.1 L1878.7,1096.2 L1881.4,1118.6 L1869.5,1131.8 L1865.5,1137.1 L1848.4,1135.8 L1844.5,1134.5Z" fill="#ac94fa" stroke="#ffffff" stroke-width="1.0" stroke-linejoin="round"/>
<path d="M1814.1,1105.5 L1840.5,1104.1 L1844.5,1134.5 L1836.5,1145.0 L1815.5,1152.9Z" fill="#edebfe" stroke="#ffffff" stroke-width="1.0" stroke-linejoin="round"/>
<path d="M1785.1,1100.2 L1810.2,1098.9 L1812.8,1105.5 L1815.5,1141.0 L1810.2,1159.5 L1802.3,1160.2 L1793.0,1147.6 L1778.5,1130.5 L1779.9,1113.4 L1786.5,1109.4Z" fill="#7e3af2" stroke="#ffffff" stroke-width="1.0" stroke-linejoin="round"/>
<path d="M1728.5,1092.3 L1775.9,1091.0 L1778.5,1098.2 L1785.1,1101.5 L1786.5,1109.4 L1779.9,1113.4 L1778.5,1122.6 L1736.4,1124.6 L1731.1,1116.0 L1727.1,1101.5Z" fill="#7e3af2" stroke="#ffffff" stroke-width="1.0" stroke-linejoin="round"/>
<path d="M1736.4,1125.2 L1778.5,1123.9 L1778.5,1130.5 L1793.0,1147.6 L1802.3,1160.2 L1802.3,1171.4 L1794.4,1172.7 L1749.5,1172.7 L1746.9,1139.7 L1743.0,1131.8Z" fill="#dcd7fe" stroke="#ffffff" stroke-width="1.0" stroke-linejoin="round"/>
<path d="M1720.5,1030.3 L1737.7,1027.7 L1737.7,1031.6 L1756.1,1033.0 L1770.6,1036.9 L1781.2,1036.9 L1762.7,1054.0 L1760.1,1065.9 L1761.4,1075.1 L1774.6,1084.4 L1775.9,1091.0 L1727.1,1091.0 L1724.5,1064.6Z" fill="#cabffd" stroke="#ffffff" stroke-width="1.0" stroke-linejoin="round"/>
<path d="M1762.7,1054.0 L1783.8,1052.7 L1804.9,1059.3 L1808.9,1065.9 L1804.9,1073.8 L1808.9,1085.7 L1808.9,1097.5 L1778.5,1098.2 L1775.9,1089.6 L1774.6,1084.4 L1761.4,1075.1 L1760.1,1065.9Z" fill="#cabffd" stroke="#ffffff" stroke-width="1.0" stroke-linejoin="round"/>
<path d="M1783.8,1052.7 L1797.0,1044.8 L1810.2,1051.4 L1824.7,1047.5 L1836.5,1050.1 L1812.8,1055.4 L1808.9,1063.3 L1804.9,1059.3Z" fill="#ac94fa" stroke="#ffffff" stroke-width="1.0" stroke-linejoin="round"/>
<path d="M1832.6,1058.0 L1847.1,1064.6 L1843.1,1079.1 L1852.4,1075.1 L1859.0,1085.7 L1851.0,1101.5 L1824.7,1102.8 L1823.4,1087.0 L1822.0,1071.2Z" fill="#ac94fa" stroke="#ffffff" stroke-width="1.0" stroke-linejoin="round"/>
<path d="M1881.4,1093.6 L1888.0,1091.0 L1930.1,1087.0 L1934.1,1092.3 L1936.7,1104.1 L1932.8,1112.0 L1885.3,1118.6Z" fill="#ac94fa" stroke="#ffffff" stroke-width="1.0" stroke-linejoin="round"/>
<path d="M1888.0,1091.0 L1890.6,1084.4 L1893.2,1076.5 L1914.3,1071.2 L1920.9,1055.4 L1938.1,1048.8 L1944.6,1079.1 L1946.0,1089.6 L1939.4,1092.3 L1934.1,1091.0 L1930.1,1087.0Z" fill="#dcd7fe" stroke="#ffffff" stroke-width="1.0" stroke-linejoin="round"/>
<path d="M1946.0,1090.0 L1960.0,1086.0 L1958.0,1089.0 L1947.0,1093.0Z" fill="#dcd7fe" stroke="#ffffff" stroke-width="1.0" stroke-linejoin="round"/>
<path d="M1940.0,1047.5 L1953.9,1043.5 L1949.9,1069.9 L1946.0,1071.2Z" fill="#ac94fa" stroke="#ffffff" stroke-width="1.0" stroke-linejoin="round"/>
<path d="M1953.9,1043.5 L1959.1,1039.5 L1965.7,1065.9 L1951.2,1069.9Z" fill="#cabffd" stroke="#ffffff" stroke-width="1.0" stroke-linejoin="round"/>
<path d="M1959.1,1039.5 L1964.4,1017.1 L1977.6,1010.5 L1985.5,1029.0 L1993.4,1034.3 L1976.3,1043.5 L1967.0,1059.3 L1965.7,1065.9Z" fill="#ac94fa" stroke="#ffffff" stroke-width="1.0" stroke-linejoin="round"/>
<path d="M1947.3,1072.5 L1965.7,1069.9 L1972.3,1076.5 L1963.1,1077.8 L1947.3,1077.8Z" fill="#7e3af2" stroke="#ffffff" stroke-width="1.0" stroke-linejoin="round"/>
<path d="M1947.3,1079.1 L1963.1,1079.1 L1963.1,1084.4 L1947.3,1089.6Z" fill="#edebfe" stroke="#ffffff" stroke-width="1.0" stroke-linejoin="round"/>
<path d="M1936.7,1092.3 L1944.6,1093.6 L1942.0,1104.1 L1940.7,1112.0 L1936.0,1106.0Z" fill="#edebfe" stroke="#ffffff" stroke-width="1.0" stroke-linejoin="round"/>
<path d="M1885.3,1119.0 L1932.8,1112.5 L1934.0,1120.0 L1930.0,1125.0 L1925.0,1118.0 L1918.0,1121.0 L1907.7,1122.6 L1897.2,1116.0 L1885.3,1121.3Z" fill="#ac94fa" stroke="#ffffff" stroke-width="1.0" stroke-linejoin="round"/>
<path d="M1933.0,1112.5 L1937.0,1113.0 L1938.0,1122.0 L1934.0,1122.0Z" fill="#dcd7fe" stroke="#ffffff" stroke-width="1.0" stroke-linejoin="round"/>
<path d="M1536.2,1257.8 L1544.9,1249.2 L1553.5,1247.7 L1579.4,1251.3 L1582.2,1254.9 L1588.7,1304.5 L1579.4,1303.8 L1572.2,1302.4 L1565.0,1302.4 L1559.2,1308.1 L1553.5,1319.6 L1543.4,1329.7 L1540.6,1329.7 L1549.2,1315.3 L1539.1,1312.4 L1536.2,1305.2 L1531.9,1296.6 L1539.1,1289.4 L1543.4,1285.1 L1531.9,1279.4 L1531.9,1273.6 L1543.4,1272.2 L1536.2,1259.2Z" fill="#ac94fa" stroke="#ffffff" stroke-width="1.0" stroke-linejoin="round"/>
<path d="M1588.7,1304.5 L1598.0,1307.0 L1610.0,1313.0 L1625.4,1321.0 L1622.0,1323.0 L1608.0,1316.0 L1596.0,1310.0 L1588.0,1307.0Z" fill="#ac94fa" stroke="#ffffff" stroke-width="1.0" stroke-linejoin="round"/>
<path d="M1711.6,1352.7 L1718.0,1352.0 L1724.5,1359.0 L1718.0,1362.0 L1712.0,1365.7Z" fill="#ac94fa" stroke="#ffffff" stroke-width="1.0" stroke-linejoin="round"/>
<path d="M1953.0,1351.3 L1984.6,1345.5 L1983.2,1354.2 L1955.9,1361.4Z" fill="#7e3af2" stroke="#ffffff" stroke-width="1.0" stroke-linejoin="round"/>
<circle cx="1660.6" cy="1326.1" r="1.6" fill="#ac94fa"/>
<circle cx="1681.4" cy="1333.3" r="1.6" fill="#ac94fa"/>
<circle cx="1705.9" cy="1342.6" r="1.6" fill="#ac94fa"/></g>
<g clip-path="url(#cc)">
<path d="M1339,469 C1364,509 1402.5,581 1452.5,581 C1505.8,581 1505.8,537 1559,537 C1614.5,537 1614.5,611 1670,611 C1726.0,611 1726.0,463.5 1782,463.5 C1838.4,463.5 1838.4,690.3 1894.8,690.3 C1949.0,690.3 1949.0,599.3 2003.3,599.3 C2043,599.3 2080,640 2117,679 L2117,812 L1339,812 Z" fill="url(#ag)"/>
<path d="M1339,469 C1364,509 1402.5,581 1452.5,581 C1505.8,581 1505.8,537 1559,537 C1614.5,537 1614.5,611 1670,611 C1726.0,611 1726.0,463.5 1782,463.5 C1838.4,463.5 1838.4,690.3 1894.8,690.3 C1949.0,690.3 1949.0,599.3 2003.3,599.3 C2043,599.3 2080,640 2117,679" fill="none" stroke="#7e3af2" stroke-width="8" stroke-linecap="round"/>
</g>
<circle cx="1782" cy="463.5" r="6" fill="#7e3af2" stroke="#fff" stroke-width="2.5"/>
<!-- legend -->
<g stroke="#c9ccd3" stroke-width="1"><line x1="1603.5" y1="1403.5" x2="1603.5" y2="1406.5"/><line x1="1628.2" y1="1403.5" x2="1628.2" y2="1406.5"/><line x1="1652.9" y1="1403.5" x2="1652.9" y2="1406.5"/><line x1="1677.6" y1="1403.5" x2="1677.6" y2="1406.5"/><line x1="1702.3" y1="1403.5" x2="1702.3" y2="1406.5"/><line x1="1727.0" y1="1403.5" x2="1727.0" y2="1406.5"/><line x1="1751.7" y1="1403.5" x2="1751.7" y2="1406.5"/><line x1="1776.4" y1="1403.5" x2="1776.4" y2="1406.5"/><line x1="1801.1" y1="1403.5" x2="1801.1" y2="1406.5"/><line x1="1825.8" y1="1403.5" x2="1825.8" y2="1406.5"/><line x1="1850.5" y1="1403.5" x2="1850.5" y2="1406.5"/></g>
<rect x="1588" y="1409.6" width="277" height="7.2" rx="3.6" fill="url(#lg)"/>
</svg>

<!-- Left card texts -->
<div class="abs" style="left:72px;top:168.3px;font-size:39.6px;font-weight:700;line-height:46px;color:#111827">United States</div>
<div class="abs" style="left:72px;top:219.5px;font-size:21.6px;line-height:28px;color:#6b7c86">Sessions by country</div>

<!-- map tooltip -->
<div class="abs" style="left:161.4px;top:343.6px;width:186.7px;height:109.7px;background:#fff;border:1px solid #d5d9e0;border-radius:7px;box-shadow:0 1px 3px rgba(0,0,0,0.06)"></div>
<svg class="abs" style="left:245.5px;top:452.3px" width="11" height="6"><path d="M0,0 L5.5,5 L11,0 Z" fill="#d5d9e0"/></svg>
<div class="abs" style="left:174px;top:357.2px;width:20px;height:14.6px;border-radius:2px;overflow:hidden;opacity:.85"><svg width="19" height="14" viewBox="0 0 33 22" preserveAspectRatio="none"><rect width="33" height="22" fill="#eb9ca4"/><rect x="14" y="4.6" width="19" height="1.3" fill="#ef4652"/><rect x="14" y="5.9" width="19" height="1.1" fill="#fbeff1"/><rect y="14.2" width="33" height="1" fill="#eef0f2"/><rect y="15.2" width="33" height="1.4" fill="#ef4652"/><rect y="16.6" width="33" height="2.6" fill="#e9b3b9"/><rect width="14" height="10.3" fill="#6d777b"/></svg></div>
<div class="abs" style="left:204.5px;top:354px;font-size:15.5px;font-weight:700;line-height:19px;color:#1f2937">United States</div>
<div class="abs" style="left:169px;top:387.5px;font-size:15px;line-height:18px;letter-spacing:0.5px;color:#6b7c86">Visitors: <b style="color:#1f2937">81.4k</b></div>
<div class="abs" style="left:169px;top:416px;font-size:15px;line-height:18px;letter-spacing:0.5px;color:#6b7c86">Change: <b style="color:#5b7470">24%</b></div>

<!-- zoom buttons -->
<div class="zbtn" style="left:72px"></div>
<div class="zbtn" style="left:112.5px"></div>
<svg class="abs" style="left:72px;top:821.5px" width="71" height="30"><g stroke="#2d3742" stroke-width="3" stroke-linecap="butt"><line x1="7.2" y1="14.5" x2="22.8" y2="14.5"/><line x1="48.2" y1="14.5" x2="63.8" y2="14.5"/><line x1="56" y1="7" x2="56" y2="22"/></g></svg>

<div class="flag" style="top:914.2px"><svg width="33" height="22" viewBox="0 0 33 22" preserveAspectRatio="none"><rect width="33" height="22" fill="#eb9ca4"/><rect x="14" y="4.6" width="19" height="1.3" fill="#ef4652"/><rect x="14" y="5.9" width="19" height="1.1" fill="#fbeff1"/><rect y="14.2" width="33" height="1" fill="#eef0f2"/><rect y="15.2" width="33" height="1.4" fill="#ef4652"/><rect y="16.6" width="33" height="2.6" fill="#e9b3b9"/><rect width="14" height="10.3" fill="#6d777b"/></svg></div>
<div class="cname" style="top:911.7px">United States</div>
<div class="track" style="top:912.7px"></div>
<div class="fill" style="top:912.7px;width:522.0px"></div><div class="flag" style="top:980.2px"><svg width="33" height="22" viewBox="0 0 33 22" preserveAspectRatio="none"><rect width="33" height="22" fill="#fff"/><rect width="9" height="22" fill="#ef3e4a"/><rect x="24" width="9" height="22" fill="#ef3e4a"/><path d="M16.5,6 l1.2,2.6 1.8,-0.8 -0.6,3.2 1.8,-1 0.6,1.2 -2,1.6 0.4,1.2 -2.6,-0.4 0,2.4 -1.2,0 0,-2.4 -2.6,0.4 0.4,-1.2 -2,-1.6 0.6,-1.2 1.8,1 -0.6,-3.2 1.8,0.8z" fill="#ef3e4a"/></svg></div>
<div class="cname" style="top:977.7px">Canda</div>
<div class="track" style="top:978.7px"></div>
<div class="fill" style="top:978.7px;width:370.7px"></div><div class="flag" style="top:1046.2px"><svg width="33" height="22" viewBox="0 0 33 22" preserveAspectRatio="none"><rect width="11" height="22" fill="#1e3bb3"/><rect x="11" width="11" height="22" fill="#fff"/><rect x="22" width="11" height="22" fill="#ef4350"/></svg></div>
<div class="cname" style="top:1043.7px">France</div>
<div class="track" style="top:1044.7px"></div>
<div class="fill" style="top:1044.7px;width:288.3px"></div><div class="flag" style="top:1112.2px"><svg width="33" height="22" viewBox="0 0 33 22" preserveAspectRatio="none"><rect width="33" height="22" fill="#e0202e"/><rect y="5.5" width="33" height="11" fill="#f8c51c"/><rect x="7" y="8.5" width="5" height="5" fill="#d4343a"/></svg></div>
<div class="cname" style="top:1109.7px">Spain</div>
<div class="track" style="top:1110.7px"></div>
<div class="fill" style="top:1110.7px;width:262.9px"></div><div class="flag" style="top:1178.2px"><svg width="33" height="22" viewBox="0 0 33 22" preserveAspectRatio="none"><rect width="33" height="22" fill="#fff" stroke="#f0f0f0"/><circle cx="16.5" cy="11" r="5.2" fill="#d51a35"/></svg></div>
<div class="cname" style="top:1175.7px">Japan</div>
<div class="track" style="top:1176.7px"></div>
<div class="fill" style="top:1176.7px;width:194.3px"></div><div class="flag" style="top:1244.2px"><svg width="33" height="22" viewBox="0 0 33 22" preserveAspectRatio="none"><rect width="11" height="22" fill="#1f2430"/><rect x="11" width="11" height="22" fill="#f9d43b"/><rect x="22" width="11" height="22" fill="#ef4350"/></svg></div>
<div class="cname" style="top:1241.7px">Belgium</div>
<div class="track" style="top:1242.7px"></div>
<div class="fill" style="top:1242.7px;width:172.5px"></div><div class="flag" style="top:1310.2px"><svg width="33" height="22" viewBox="0 0 33 22" preserveAspectRatio="none"><rect width="33" height="22" fill="#23338f"/><path d="M0,0 L33,22 M33,0 L0,22" stroke="#fff" stroke-width="4.5"/><path d="M0,0 L33,22 M33,0 L0,22" stroke="#e0263a" stroke-width="1.6"/><rect x="13" width="7" height="22" fill="#fff"/><rect y="7.5" width="33" height="7" fill="#fff"/><rect x="14.8" width="3.4" height="22" fill="#e0263a"/><rect y="9.3" width="33" height="3.4" fill="#e0263a"/></svg></div>
<div class="cname" style="top:1307.7px">UK</div>
<div class="track" style="top:1308.7px"></div>
<div class="fill" style="top:1308.7px;width:166.4px"></div>

<div class="abs" style="left:72px;top:1372.4px;width:1047px;height:1.3px;background:#f0f0f6"></div>
<div class="abs" style="left:72px;top:1406.5px;font-size:18.3px;line-height:22px;letter-spacing:0.25px;color:#687b82">Last 7 days</div>
<svg class="abs" style="left:182px;top:1411px" width="17" height="12"><path d="M2.5,3 L8.5,9 L14.5,3" fill="none" stroke="#4f6b6e" stroke-width="2.2"/></svg>
<div class="abs" style="left:914px;top:1406.5px;font-size:17.7px;font-weight:700;line-height:22px;color:#7e3af2;word-spacing:2px">LOCATION REPORT</div>
<svg class="abs" style="left:1099px;top:1410px" width="14" height="16"><path d="M4,3 L10,8 L4,13" fill="none" stroke="#7e3af2" stroke-width="2.4"/></svg>

<!-- Right top card -->
<div class="abs" style="left:1383px;top:184.5px;font-size:56px;font-weight:700;line-height:64px;transform:scaleX(1.136);transform-origin:0 0;color:#111827">6,438</div>
<div class="abs" style="left:1383px;top:251px;font-size:30px;line-height:36px;letter-spacing:0.5px;color:#6b7c86">Visitors this week</div>
<div class="abs" style="left:1964px;top:214px;font-size:30px;font-weight:700;line-height:36px;color:#5c7879">4,3%</div>
<svg class="abs" style="left:2046px;top:221px" width="24" height="22"><g fill="none" stroke="#587779" stroke-width="3.2"><path d="M12,19.6 L12,3.5"/><path d="M4,11 L12,3 L20,11"/></g></svg>

<!-- chart tooltip -->
<div class="abs" style="left:1653.5px;top:323px;width:267px;height:122px;background:#fff;border:1px solid #d5d9e0;border-radius:8px;overflow:hidden;box-shadow:0 1px 3px rgba(0,0,0,0.05)">
<div style="height:50px;background:#f3f4f6;border-bottom:1px solid #eceef2"></div></div>
<svg class="abs" style="left:1777.5px;top:444.5px" width="11" height="6"><path d="M0,0 L5.5,5 L11,0 Z" fill="#d5d9e0"/></svg>
<div class="abs" style="left:1672.5px;top:335px;font-size:22.5px;line-height:28px;letter-spacing:0.4px;color:#5f6e77">2 Apr, 2021</div>
<div class="abs" style="left:1665px;top:393.5px;width:14px;height:14px;border-radius:50%;background:#7e3af2"></div>
<div class="abs" style="left:1689px;top:386.5px;font-size:22.5px;line-height:28px;letter-spacing:0.2px;color:#5f6e77">Visitors: <b style="color:#1f2937">851</b></div>

<!-- legend text -->
<div class="abs" style="left:1544px;top:1399.5px;font-size:22.5px;line-height:26px;color:#66777e">0</div>
<div class="abs" style="left:1894px;top:1399.5px;font-size:22.5px;line-height:26px;color:#66777e">100</div>
</body></html>
